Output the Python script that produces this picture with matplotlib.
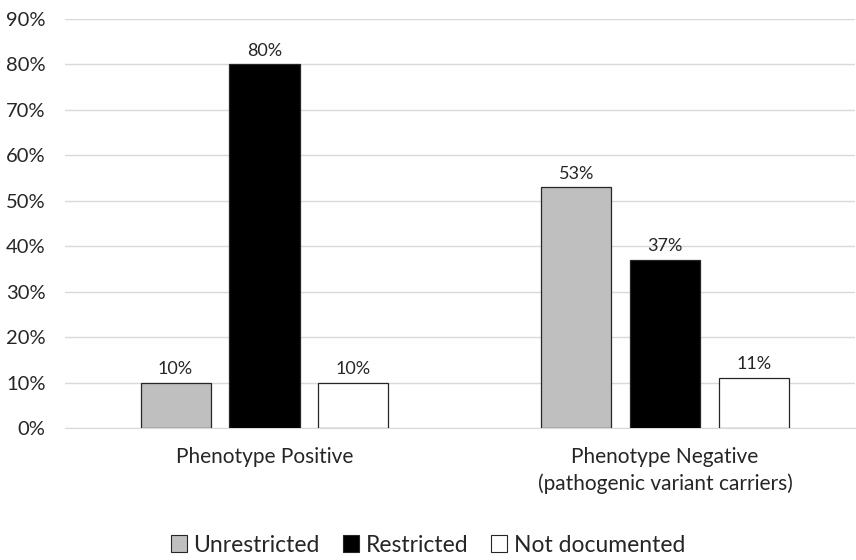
import matplotlib
matplotlib.use("Agg")
import matplotlib.pyplot as plt
from matplotlib.ticker import PercentFormatter
from matplotlib.patches import Patch

plt.rcParams['font.family'] = ['Lato', 'DejaVu Sans']

categories = ["Phenotype Positive", "Phenotype Negative\n(pathogenic variant carriers)"]
series_names = ["Unrestricted", "Restricted", "Not documented"]
unrestricted = [10, 53]
restricted = [80, 37]
not_documented = [10, 11]
y_ticks = [0, 10, 20, 30, 40, 50, 60, 70, 80, 90]

series = [unrestricted, restricted, not_documented]
colors = ["#BFBFBF", "#000000", "#FFFFFF"]

fig = plt.figure(figsize=(8.56, 5.6), dpi=100)
ax = fig.add_axes([65 / 856, 1 - 428 / 560, 790 / 856, 409 / 560])

width = 0.175
step = 0.222
x = list(range(len(categories)))
for i, (vals, col) in enumerate(zip(series, colors)):
    pos = [xi + (i - 1) * step for xi in x]
    bars = ax.bar(pos, vals, width=width, color=col, edgecolor="#262626",
                  linewidth=0.9, zorder=3, label=series_names[i])
    for b, v in zip(bars, vals):
        ax.annotate(f"{v}%", (b.get_x() + b.get_width() / 2, v),
                    xytext=(0, 4), textcoords="offset points",
                    ha="center", va="bottom", fontsize=13, color="#262626")

ax.set_ylim(0, 90)
ax.set_yticks(y_ticks)
ax.yaxis.set_major_formatter(PercentFormatter(decimals=0))
ax.set_xlim(-0.498, 1.474)
ax.set_xticks(x)
ax.set_xticklabels(categories, fontsize=15, color="#262626", linespacing=1.35)
ax.tick_params(axis="y", labelsize=14.5, labelcolor="#262626", length=0, pad=14)
ax.tick_params(axis="x", length=0, pad=14)
ax.grid(axis="y", color="#D9D9D9", linewidth=1, zorder=0)
for s in ["top", "right", "left"]:
    ax.spines[s].set_visible(False)
ax.spines["bottom"].set_color("#D9D9D9")

handles = [Patch(facecolor=c, edgecolor="#262626", linewidth=0.8) for c in colors]
fig.legend(handles, series_names, loc="center", bbox_to_anchor=(0.5, 1 - 545 / 560),
           ncol=3, frameon=False, fontsize=16.5, handlelength=0.7, handleheight=0.7,
           handletextpad=0.3, columnspacing=1.0, labelcolor="#262626")

fig.savefig("out.png", dpi=100)
